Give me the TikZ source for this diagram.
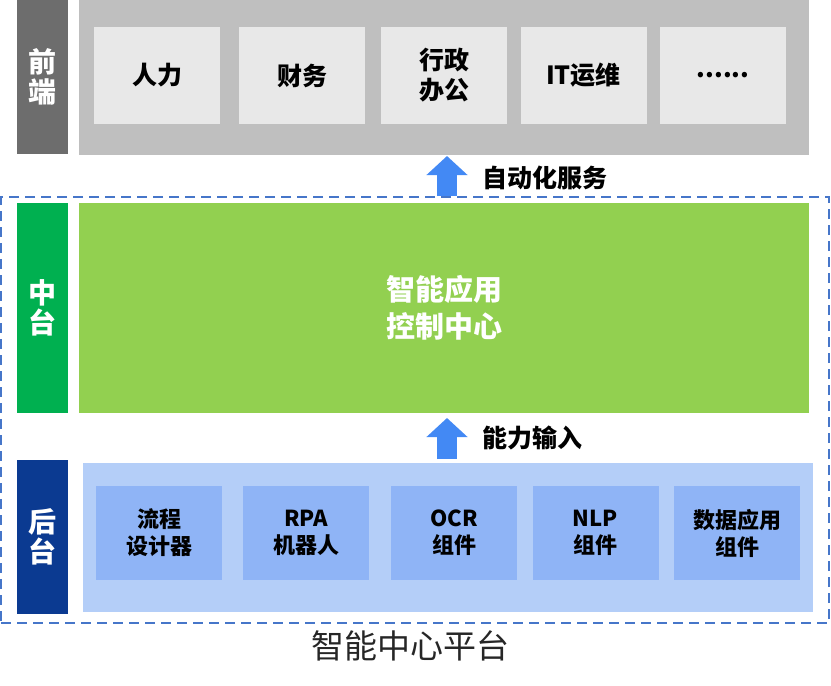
\documentclass[tikz,border=0pt]{standalone}
\usepackage{fontspec}
\setmainfont{Noto Sans CJK SC}
\usepackage{tikz}
\usetikzlibrary{arrows.meta}
\usetikzlibrary{calc}

\definecolor{frontbar}{HTML}{6D6D6D}
\definecolor{frontpanel}{HTML}{BFBFBF}
\definecolor{frontbox}{HTML}{E8E8E8}
\definecolor{midbar}{HTML}{00B050}
\definecolor{midpanel}{HTML}{92D050}
\definecolor{backbar}{HTML}{0B3A91}
\definecolor{backpanel}{HTML}{B4CEF8}
\definecolor{backbox}{HTML}{8FB4F6}
\definecolor{flowblue}{HTML}{4389F4}
\definecolor{dashblue}{HTML}{4676C9}

\begin{document}
\begin{tikzpicture}[x=1pt,y=-1pt,inner sep=0pt,outer sep=0pt]
  \tikzstyle{block}=[rectangle,align=center,font=\bfseries\fontsize{25}{30}\selectfont]
  \tikzstyle{sidebar}=[block,minimum width=51pt,text=white,font=\bfseries\fontsize{28}{30}\selectfont]
  \tikzstyle{frontitem}=[block,fill=frontbox,minimum width=126pt,minimum height=97pt]
  \tikzstyle{backitem}=[block,fill=backbox,minimum width=126pt,minimum height=94pt,font=\bfseries\fontsize{22}{27}\selectfont]
  \tikzstyle{flow}=[line width=20pt,draw=flowblue,-{Triangle[width=40pt,length=19pt]}]
  \tikzstyle{flowtext}=[anchor=west,font=\bfseries\fontsize{25}{30}\selectfont]

  \useasboundingbox (0,0) rectangle (831,686);

  % front end
  \node[sidebar,fill=frontbar,minimum height=154pt] (FB) at (42.5,77) {前\\端};
  \node[block,fill=frontpanel,minimum width=730pt,minimum height=155pt] (F) at (444,77.5) {};
  \node[frontitem] (F1) at (157,75.5)   {人力};
  \node[frontitem] (F2) at (302,75.5)   {财务};
  \node[frontitem] (F3) at (444,75.5)   {行政\\办公};
  \node[frontitem] (F4) at (583.5,75.5) {IT运维};
  \node[frontitem] (F5) at (723,75.5)   {......};

  % platform frame
  \node[rectangle,draw=dashblue,line width=2.6pt,dash pattern=on 10pt off 6pt,minimum width=828pt,minimum height=426pt] (P) at (415,410) {};
  \node[font=\fontsize{33}{36}\selectfont,text=black!85] (PL) at (410,646) {智能中心平台};

  % middle
  \node[sidebar,fill=midbar,minimum height=210pt] (MB) at (42.5,308) {中\\台};
  \node[block,fill=midpanel,text=white,minimum width=730pt,minimum height=210pt,font=\bfseries\fontsize{29}{37}\selectfont] (M) at (444,308) {智能应用\\控制中心};

  % back end
  \node[sidebar,fill=backbar,minimum height=154pt] (BB) at (42.5,537) {后\\台};
  \node[block,fill=backpanel,minimum width=730pt,minimum height=149pt] (B) at (448,537.5) {};
  \node[backitem] (B1) at (159,533)   {流程\\设计器};
  \node[backitem] (B2) at (306,533)   {RPA\\机器人};
  \node[backitem] (B3) at (454,533)   {OCR\\组件};
  \node[backitem] (B4) at (595.5,533) {NLP\\组件};
  \node[backitem] (B5) at (737,533)   {数据应用\\组件};

  % flows
  \coordinate (ax) at (447,0);
  \draw[flow] ($(P.north -| ax)+(0,-1)$) -- ($(F.south -| ax)+(0,1)$);
  \node[flowtext] (S1) at (482,178) {自动化服务};
  \draw[flow] ($(B.north -| ax)+(0,-4)$) -- ($(M.south -| ax)+(0,5)$);
  \node[flowtext] (S2) at (482,438) {能力输入};
\end{tikzpicture}
\end{document}
